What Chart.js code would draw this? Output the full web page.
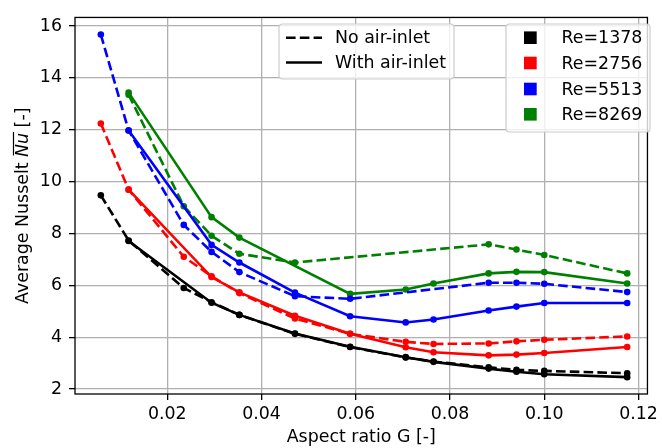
<!DOCTYPE html>
<html>
<head>
<meta charset="utf-8">
<script src="https://cdn.jsdelivr.net/npm/chart.js@4"></script>
<style>
html,body{margin:0;padding:0;background:#fff;}
#wrap{width:662px;height:448px;}
</style>
</head>
<body>
<div id="wrap"><canvas id="chart" width="662" height="448"></canvas></div>
<script>
const xTicks = [0.02, 0.04, 0.06, 0.08, 0.10, 0.12];
const yTicks = [2, 4, 6, 8, 10, 12, 14, 16];

const reLabels = ['Re=1378', 'Re=2756', 'Re=5513', 'Re=8269'];
const reColors = ['black', 'red', 'blue', 'green'];
const styleLabels = ['No air-inlet', 'With air-inlet'];

// aspect ratio G where each curve has points
const gNoInlet = [0.0059, 0.0118, 0.0235, 0.0294, 0.0353, 0.0471, 0.0588, 0.0706, 0.0765, 0.0882, 0.0941, 0.1, 0.1176];
const gNoInletBlue = [0.0059, 0.0118, 0.0235, 0.0294, 0.0353, 0.0471, 0.0588, 0.0882, 0.0941, 0.1, 0.1176];
const gNoInletGreen = [0.0118, 0.0235, 0.0294, 0.0353, 0.0471, 0.0882, 0.0941, 0.1, 0.1176];
const gInlet = [0.0118, 0.0294, 0.0353, 0.0471, 0.0588, 0.0706, 0.0765, 0.0882, 0.0941, 0.1, 0.1176];
const gInletGreen = [0.0118, 0.0294, 0.0353, 0.0588, 0.0706, 0.0765, 0.0882, 0.0941, 0.1, 0.1176];

// average Nusselt, no air-inlet (dashed)
const nuNo1378 = [9.47, 7.73, 5.90, 5.35, 4.86, 4.13, 3.62, 3.22, 3.06, 2.84, 2.74, 2.70, 2.61];
const nuNo2756 = [12.24, 9.69, 7.10, 6.35, 5.70, 4.72, 4.13, 3.82, 3.74, 3.76, 3.84, 3.90, 4.03];
const nuNo5513 = [15.67, 11.97, 8.33, 7.29, 6.51, 5.58, 5.48, 6.10, 6.10, 6.06, 5.74];
const nuNo8269 = [13.35, 9.05, 7.91, 7.22, 6.88, 7.58, 7.38, 7.17, 6.46];

// average Nusselt, with air-inlet (solid)
const nuIn1378 = [7.71, 5.33, 4.86, 4.14, 3.63, 3.23, 3.05, 2.79, 2.67, 2.57, 2.46];
const nuIn2756 = [9.69, 6.32, 5.73, 4.83, 4.13, 3.61, 3.42, 3.30, 3.33, 3.39, 3.62];
const nuIn5513 = [11.97, 7.56, 6.88, 5.72, 4.81, 4.57, 4.68, 5.03, 5.18, 5.32, 5.32];
const nuIn8269 = [13.43, 8.63, 7.84, 5.67, 5.84, 6.07, 6.46, 6.52, 6.51, 6.07];

const FONT = 'DejaVu Sans';
const FS = 17.4;
const DASH = [9.6, 4.2];

function series(xs, ys, color, dashed) {
  return {
    data: xs.map((x, i) => ({x: x, y: ys[i]})),
    borderColor: color,
    backgroundColor: color,
    borderWidth: 2.6,
    borderDash: dashed ? DASH : [],
    pointRadius: 3.3,
    pointBorderWidth: 0,
    pointHoverRadius: 3.3,
    showLine: true,
    fill: false,
    tension: 0
  };
}

const datasets = [
  series(gNoInlet, nuNo1378, reColors[0], true),
  series(gInlet, nuIn1378, reColors[0], false),
  series(gNoInlet, nuNo2756, reColors[1], true),
  series(gInlet, nuIn2756, reColors[1], false),
  series(gNoInletBlue, nuNo5513, reColors[2], true),
  series(gInlet, nuIn5513, reColors[2], false),
  series(gNoInletGreen, nuNo8269, reColors[3], true),
  series(gInletGreen, nuIn8269, reColors[3], false)
];

function roundRect(ctx, x, y, w, h, r) {
  ctx.beginPath();
  ctx.moveTo(x + r, y);
  ctx.lineTo(x + w - r, y);
  ctx.quadraticCurveTo(x + w, y, x + w, y + r);
  ctx.lineTo(x + w, y + h - r);
  ctx.quadraticCurveTo(x + w, y + h, x + w - r, y + h);
  ctx.lineTo(x + r, y + h);
  ctx.quadraticCurveTo(x, y + h, x, y + h - r);
  ctx.lineTo(x, y + r);
  ctx.quadraticCurveTo(x, y, x + r, y);
  ctx.closePath();
}

// frame, axis titles and the two legends
const extras = {
  id: 'extras',
  afterDraw(chart) {
    const ctx = chart.ctx;
    const a = chart.chartArea;
    ctx.save();
    ctx.strokeStyle = 'black';
    ctx.lineWidth = 1.3;
    ctx.strokeRect(a.left, a.top, a.right - a.left, a.bottom - a.top);

    ctx.fillStyle = 'black';
    ctx.font = FS + 'px "' + FONT + '"';
    ctx.textAlign = 'center';
    ctx.textBaseline = 'middle';
    ctx.fillText('Aspect ratio G [-]', (a.left + a.right) / 2, 437);

    // y title with italic, overlined Nu
    ctx.save();
    ctx.translate(23, (a.top + a.bottom) / 2);
    ctx.rotate(-Math.PI / 2);
    const p1 = 'Average Nusselt ', p2 = 'Nu', p3 = ' [-]';
    ctx.font = FS + 'px "' + FONT + '"';
    const w1 = ctx.measureText(p1).width, w3 = ctx.measureText(p3).width;
    ctx.font = 'italic ' + FS + 'px "' + FONT + '"';
    const w2 = ctx.measureText(p2).width;
    let x = -(w1 + w2 + w3) / 2;
    ctx.textAlign = 'left';
    ctx.font = FS + 'px "' + FONT + '"';
    ctx.fillText(p1, x, 0);
    x += w1;
    ctx.font = 'italic ' + FS + 'px "' + FONT + '"';
    ctx.fillText(p2, x, 0);
    ctx.beginPath();
    ctx.lineWidth = 1.2;
    ctx.moveTo(x + 1.5, -9.5);
    ctx.lineTo(x + w2 + 1, -9.5);
    ctx.stroke();
    x += w2;
    ctx.font = FS + 'px "' + FONT + '"';
    ctx.fillText(p3, x, 0);
    ctx.restore();

    // line style legend
    ctx.fillStyle = 'rgba(255,255,255,0.8)';
    ctx.strokeStyle = '#cccccc';
    ctx.lineWidth = 1.2;
    roundRect(ctx, 279, 24, 175, 55, 3.5);
    ctx.fill();
    ctx.stroke();
    const ly = [37.7, 62.5];
    ctx.strokeStyle = 'black';
    ctx.lineWidth = 2.6;
    styleLabels.forEach((t, i) => {
      ctx.setLineDash(i === 0 ? DASH : []);
      ctx.beginPath();
      ctx.moveTo(286, ly[i]);
      ctx.lineTo(322, ly[i]);
      ctx.stroke();
    });
    ctx.setLineDash([]);
    ctx.fillStyle = 'black';
    ctx.textAlign = 'left';
    ctx.textBaseline = 'middle';
    styleLabels.forEach((t, i) => ctx.fillText(t, 335, ly[i] + 1));

    // Reynolds legend
    ctx.fillStyle = 'rgba(255,255,255,0.8)';
    ctx.strokeStyle = '#cccccc';
    ctx.lineWidth = 1.2;
    roundRect(ctx, 506, 24, 144, 108, 3.5);
    ctx.fill();
    ctx.stroke();
    const ry = [37.7, 63, 89, 114.3];
    reLabels.forEach((t, i) => {
      ctx.fillStyle = reColors[i];
      ctx.fillRect(524, ry[i] - 6.3, 12.7, 12.6);
      ctx.fillStyle = 'black';
      ctx.fillText(t, 561.5, ry[i] + 1);
    });
    ctx.restore();
  }
};

new Chart(document.getElementById('chart'), {
  type: 'scatter',
  data: {datasets: datasets},
  plugins: [extras],
  options: {
    responsive: false,
    animation: false,
    devicePixelRatio: 1,
    layout: {padding: {top: 15, right: 9, left: 0, bottom: 0}},
    plugins: {legend: {display: false}, tooltip: {enabled: false}},
    scales: {
      x: {
        type: 'linear',
        min: 0.00042,
        max: 0.1219,
        afterBuildTicks: s => { s.ticks = xTicks.map(v => ({value: v})); },
        afterFit: s => { s.height = 54; },
        border: {display: false},
        grid: {color: '#b0b0b0', lineWidth: 1.3, tickColor: 'black', tickLength: 6, tickWidth: 1.3},
        ticks: {
          color: 'black',
          padding: 4,
          maxRotation: 0,
          font: {family: FONT, size: FS},
          callback: v => v.toFixed(2)
        }
      },
      y: {
        type: 'linear',
        min: 1.81,
        max: 16.33,
        afterBuildTicks: s => { s.ticks = yTicks.map(v => ({value: v})); },
        afterFit: s => { s.width = 75; },
        border: {display: false},
        grid: {color: '#b0b0b0', lineWidth: 1.3, tickColor: 'black', tickLength: 6, tickWidth: 1.3},
        ticks: {
          color: 'black',
          padding: 7,
          font: {family: FONT, size: FS},
          callback: v => String(v)
        }
      }
    }
  }
});
</script>
</body>
</html>
